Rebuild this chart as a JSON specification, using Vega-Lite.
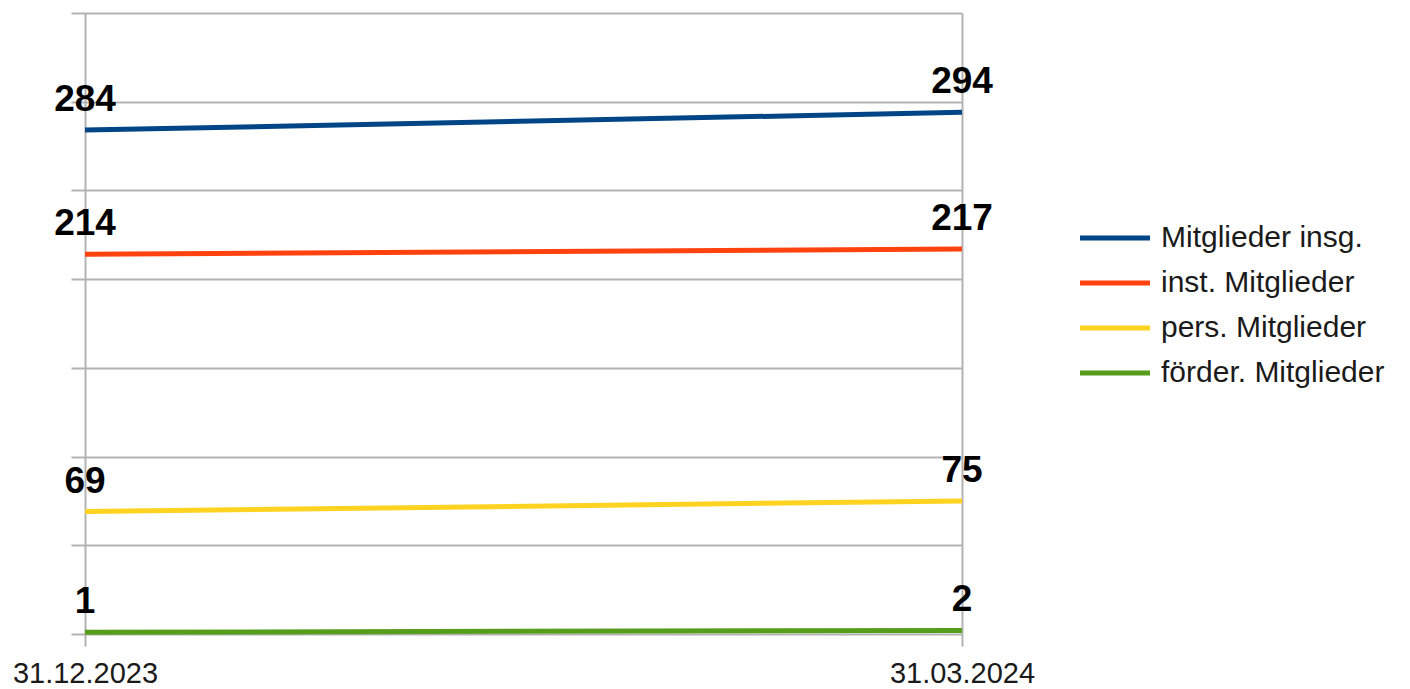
{
  "$schema": "https://vega.github.io/schema/vega-lite/v6.json",
  "autosize": {"type": "none"},
  "width": 877,
  "height": 621,
  "padding": {"left": 85, "top": 13, "right": 448, "bottom": 55},
  "background": "white",
  "config": {
    "view": {"stroke": null},
    "font": "Liberation Sans"
  },
  "data": {
    "values": [
      {"datum": "31.12.2023", "serie": "Mitglieder insg.", "wert": 284},
      {"datum": "31.03.2024", "serie": "Mitglieder insg.", "wert": 294},
      {"datum": "31.12.2023", "serie": "inst. Mitglieder", "wert": 214},
      {"datum": "31.03.2024", "serie": "inst. Mitglieder", "wert": 217},
      {"datum": "31.12.2023", "serie": "pers. Mitglieder", "wert": 69},
      {"datum": "31.03.2024", "serie": "pers. Mitglieder", "wert": 75},
      {"datum": "31.12.2023", "serie": "förder. Mitglieder", "wert": 1},
      {"datum": "31.03.2024", "serie": "förder. Mitglieder", "wert": 2}
    ]
  },
  "encoding": {
    "x": {
      "field": "datum", "type": "ordinal",
      "scale": {"type": "point", "padding": 0},
      "sort": ["31.12.2023", "31.03.2024"],
      "axis": {
        "title": null, "labelAngle": 0, "grid": true, "gridColor": "#b3b3b3", "gridWidth": 2,
        "domain": false, "ticks": true, "tickSize": 12, "tickColor": "#b3b3b3", "tickWidth": 2,
        "labelFontSize": 29, "labelColor": "#1a1a1a", "labelPadding": 13, "labelFont": "Liberation Sans"
      }
    },
    "y": {
      "field": "wert", "type": "quantitative",
      "scale": {"domain": [0, 350], "nice": false},
      "axis": {
        "title": null, "values": [0, 50, 100, 150, 200, 250, 300, 350], "labels": false,
        "grid": true, "gridColor": "#b3b3b3", "gridWidth": 2, "domain": false,
        "ticks": true, "tickSize": 14, "tickColor": "#b3b3b3", "tickWidth": 2
      }
    },
    "color": {
      "field": "serie", "type": "nominal",
      "scale": {
        "domain": ["Mitglieder insg.", "inst. Mitglieder", "pers. Mitglieder", "förder. Mitglieder"],
        "range": ["#004586", "#ff420e", "#ffd320", "#579d1c"]
      },
      "legend": {
        "title": null, "orient": "none", "legendX": 1015, "legendY": 210,
        "symbolType": "M-5,0H5", "symbolStrokeWidth": 5, "symbolSize": 196,
        "labelFontSize": 30, "labelColor": "#1a1a1a", "labelFont": "Liberation Sans",
        "labelOffset": 31, "rowPadding": 15, "labelLimit": 400
      }
    }
  },
  "layer": [
    {"mark": {"type": "line", "strokeWidth": 5}},
    {
      "mark": {"type": "text", "fontSize": 37, "fontWeight": "bold", "color": "black", "dy": -19, "baseline": "alphabetic", "align": "center"},
      "encoding": {"text": {"field": "wert", "type": "quantitative"}, "color": {"value": "black"}}
    }
  ]
}
